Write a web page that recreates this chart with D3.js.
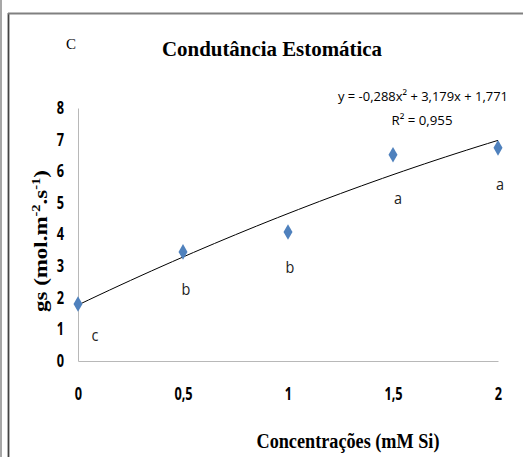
<!DOCTYPE html>
<html>
<head>
<meta charset="utf-8">
<script src="https://cdn.jsdelivr.net/npm/d3@7"></script>
<style>
  body { margin: 0; background: #fff; }
  svg { display: block; }
</style>
</head>
<body>
<div id="chart"></div>
<script>
// data
const concentrations = [0, 0.5, 1, 1.5, 2]
const gsValues = [1.8, 3.45, 4.08, 6.52, 6.74]
const groupLetters = ["c", "b", "b", "a", "a"]
const xTickLabels = ["0", "0,5", "1", "1,5", "2"]
const yTicks = [0, 1, 2, 3, 4, 5, 6, 7, 8]
// trend line y = a x^2 + b x + c
const trendCoef = [-0.288, 3.179, 1.771]

const width = 523, height = 457
const SANS = "'Open Sans', 'DejaVu Sans', sans-serif"
const SERIF = "'Liberation Serif', 'DejaVu Serif', serif"

const svg = d3.select("#chart").append("svg")
    .attr("width", width)
    .attr("height", height)

// squeeze a text horizontally (narrow Calibri / Times look)
function squeeze(sel, k) {
    sel.each(function() {
        let len = this.getComputedTextLength()
        d3.select(this).attr("textLength", len * k).attr("lengthAdjust", "spacingAndGlyphs")
    })
}

// frame lines (cropped figure)
svg.append("line").attr("x1", 1).attr("x2", 1).attr("y1", 0).attr("y2", height)
    .attr("stroke", "#8a8a8a").attr("stroke-width", 1.5)
svg.append("line").attr("x1", 8.5).attr("x2", 8.5).attr("y1", 13).attr("y2", height)
    .attr("stroke", "#444").attr("stroke-width", 1.8)
svg.append("line").attr("x1", 8).attr("x2", width).attr("y1", 13.5).attr("y2", 13.5)
    .attr("stroke", "#808080").attr("stroke-width", 2)

let x = d3.scaleLinear().domain([0, 2]).range([78, 498])
let y = d3.scaleLinear().domain([0, 8]).range([361, 108])

// y axis
let yAxis = svg.append("g")
    .attr("transform", `translate(${x(0)},0)`)
    .call(d3.axisLeft(y).tickValues(yTicks).tickSize(0).tickPadding(14).tickFormat(d3.format("d")))
yAxis.select(".domain").attr("stroke", "#b8b8b8").attr("stroke-width", 1)
yAxis.selectAll("text")
    .attr("font-family", SANS)
    .attr("font-size", 17)
    .attr("font-weight", "bold")
    .attr("fill", "#000")
    .call(squeeze, 0.75)

// x axis
let xAxis = svg.append("g")
    .attr("transform", `translate(0,${y(0)})`)
    .call(d3.axisBottom(x).tickValues(concentrations).tickSize(0).tickPadding(27)
        .tickFormat((d, i) => xTickLabels[i]))
xAxis.select(".domain").attr("stroke", "#b8b8b8").attr("stroke-width", 1)
xAxis.selectAll("text")
    .attr("font-family", SANS)
    .attr("font-size", 17)
    .attr("font-weight", "bold")
    .attr("fill", "#000")
    .call(squeeze, 0.75)

// trend line
let trend = x0 => trendCoef[0] * x0 * x0 + trendCoef[1] * x0 + trendCoef[2]
let trendPts = d3.range(0, 2.0001, 0.05).map(v => [v, trend(v)])
svg.append("path")
    .datum(trendPts)
    .attr("fill", "none")
    .attr("stroke", "#000")
    .attr("stroke-width", 1)
    .attr("d", d3.line().x(d => x(d[0])).y(d => y(d[1])))

// points
svg.selectAll(".pt")
    .data(concentrations)
    .enter()
    .append("path")
    .attr("class", "pt")
    .attr("transform", (d, i) => `translate(${x(d)},${y(gsValues[i])})`)
    .attr("d", d3.symbol().type(d3.symbolDiamond).size(70))
    .attr("fill", "#4f81bd")

// letters under points
const letterDx = [17, 3, 2, 5, 2]
const letterDy = [37, 43, 41, 49, 42]
svg.selectAll(".grp")
    .data(concentrations)
    .enter()
    .append("text")
    .attr("class", "grp")
    .attr("x", (d, i) => x(d) + letterDx[i])
    .attr("y", (d, i) => y(gsValues[i]) + letterDy[i])
    .attr("text-anchor", "middle")
    .attr("font-family", SANS)
    .attr("font-size", 17)
    .attr("fill", "#222")
    .text((d, i) => groupLetters[i])
    .call(squeeze, 0.85)

// equation
svg.append("text")
    .attr("x", 423).attr("y", 101)
    .attr("text-anchor", "middle")
    .attr("font-family", SANS)
    .attr("font-size", 13.5)
    .attr("textLength", 170)
    .attr("lengthAdjust", "spacingAndGlyphs")
    .text("y = -0,288x² + 3,179x + 1,771")

svg.append("text")
    .attr("x", 422).attr("y", 125)
    .attr("text-anchor", "middle")
    .attr("font-family", SANS)
    .attr("font-size", 13.5)
    .attr("textLength", 61)
    .attr("lengthAdjust", "spacingAndGlyphs")
    .text("R² = 0,955")

// panel letter and title
svg.append("text")
    .attr("x", 71).attr("y", 49)
    .attr("text-anchor", "middle")
    .attr("font-family", SERIF)
    .attr("font-size", 15)
    .text("C")

svg.append("text")
    .attr("x", 272).attr("y", 56)
    .attr("text-anchor", "middle")
    .attr("font-family", SERIF)
    .attr("font-size", 22)
    .attr("font-weight", "bold")
    .attr("textLength", 220)
    .attr("lengthAdjust", "spacingAndGlyphs")
    .text("Condutância  Estomática")

// axis titles
svg.append("text")
    .attr("x", 348).attr("y", 448)
    .attr("text-anchor", "middle")
    .attr("font-family", SERIF)
    .attr("font-size", 20)
    .attr("font-weight", "bold")
    .attr("textLength", 183)
    .attr("lengthAdjust", "spacingAndGlyphs")
    .text("Concentrações (mM Si)")

let yt = svg.append("text")
    .attr("transform", "translate(47,241) rotate(-90)")
    .attr("text-anchor", "middle")
    .attr("font-family", SERIF)
    .attr("font-size", 19)
    .attr("font-weight", "bold")
    .attr("textLength", 142)
    .attr("lengthAdjust", "spacingAndGlyphs")
yt.append("tspan").text("gs (mol.m")
yt.append("tspan").attr("dy", -7).attr("font-size", 12).text("-2")
yt.append("tspan").attr("dy", 7).text(".s")
yt.append("tspan").attr("dy", -7).attr("font-size", 12).text("-1")
yt.append("tspan").attr("dy", 7).text(")")
</script>
</body>
</html>
